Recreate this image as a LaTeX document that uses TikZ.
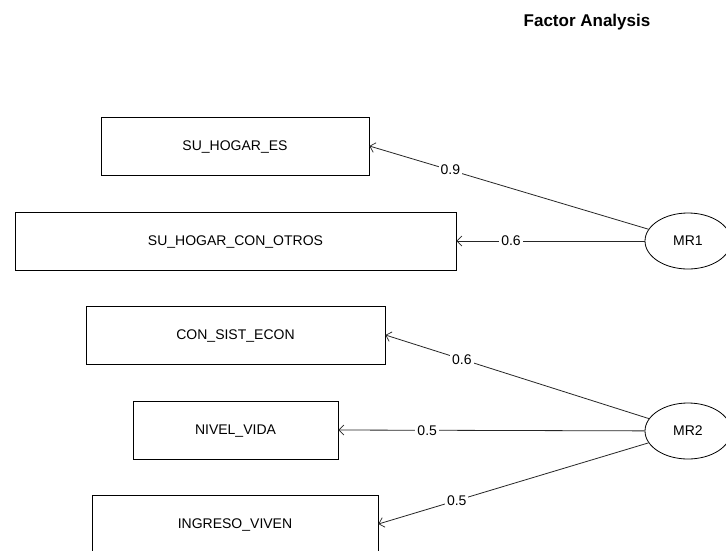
\documentclass[tikz,border=0pt]{standalone}
\usepackage{fontspec}
\setmainfont{Liberation Sans}
\usetikzlibrary{shapes.geometric,arrows.meta}
\tikzset{
  varbox/.style={draw=black, line width=0.8pt, minimum height=58pt, inner sep=0pt, text depth=0pt, font=\fontsize{14}{16}\selectfont},
  factor/.style={draw=black, ellipse, line width=0.8pt, minimum width=86pt, minimum height=56pt, inner sep=0pt, font=\fontsize{14}{16}\selectfont},
  loading/.style={draw=black!85, line width=0.8pt, -{Straight Barb[length=5pt,width=10pt,line width=0.7pt]}},
  lbl/.style={fill=white, inner sep=2pt, pos=0.71, font=\fontsize{14}{16}\selectfont}
}
\begin{document}
\begin{tikzpicture}[x=1pt,y=-1pt]
\useasboundingbox (0,0) rectangle (726,550);
\clip (0,0) rectangle (726,550);
\fill[white] (0,0) rectangle (726,550);
\node[font=\bfseries\fontsize{17}{20}\selectfont] (title) at (587,22) {Factor Analysis};
\node[varbox, minimum width=268pt] (b1) at (235,146) {SU\_HOGAR\_ES};
\node[varbox, minimum width=441pt] (b2) at (235.5,241) {SU\_HOGAR\_CON\_OTROS};
\node[varbox, minimum width=299pt] (b3) at (235.5,335) {CON\_SIST\_ECON};
\node[varbox, minimum width=205pt] (b4) at (235.5,430) {NIVEL\_VIDA};
\node[varbox, minimum width=286pt] (b5) at (235,524) {INGRESO\_VIVEN};
\node[factor] (mr1) at (688,241) {MR1};
\node[factor] (mr2) at (688,431) {MR2};
\draw[loading] (mr1) -- node[lbl] {0.9} (b1.east);
\draw[loading] (mr1) -- node[lbl] {0.6} (b2.east);
\draw[loading] (mr2) -- node[lbl] {0.6} (b3.east);
\draw[loading] (mr2) -- node[lbl] {0.5} (b4.east);
\draw[loading] (mr2) -- node[lbl] {0.5} (b5.east);
\end{tikzpicture}
\end{document}
